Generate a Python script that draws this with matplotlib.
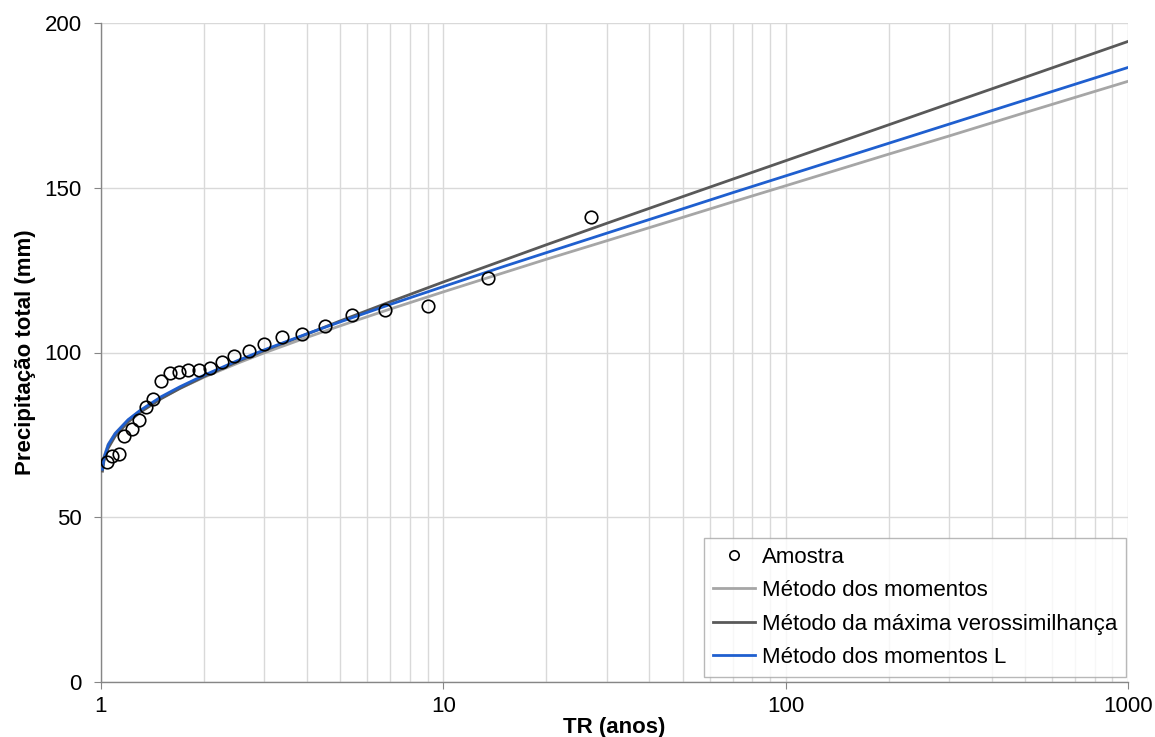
import matplotlib.pyplot as plt
from matplotlib.ticker import LogLocator, FixedLocator, NullFormatter

plt.rcParams['font.family'] = ['Liberation Sans', 'DejaVu Sans']

# Observed sample (return period, annual maximum)
tr_sample = [1.04, 1.08, 1.13, 1.17, 1.23, 1.29, 1.35, 1.42, 1.50, 1.59,
             1.69, 1.80, 1.93, 2.08, 2.25, 2.45, 2.70, 3.00, 3.38, 3.86,
             4.50, 5.40, 6.75, 9.00, 13.5, 27.0]
p_sample = [66.9, 68.6, 69.2, 74.7, 76.9, 79.5, 83.4, 85.9, 91.3, 93.7,
            94.1, 94.7, 94.7, 95.2, 97.2, 98.9, 100.5, 102.6, 104.6, 105.6,
            108.0, 111.3, 112.8, 114.1, 122.7, 141.2]

# Fitted curves
tr_fit = [1.01, 1.02, 1.05, 1.1, 1.2, 1.3, 1.5, 1.7, 2, 2.5, 3, 4, 5, 7,
          10, 15, 20, 30, 50, 70, 100, 200, 300, 500, 1000]
p_mom = [65.0, 68.4, 72.2, 75.5, 79.5, 82.3, 86.2, 89.1, 92.5, 96.7, 99.9,
         104.6, 108.1, 113.2, 118.4, 124.2, 128.3, 133.9, 141.0, 145.7,
         150.6, 160.2, 165.7, 172.8, 182.3]
p_mv = [64.0, 67.0, 71.0, 74.6, 78.9, 81.8, 86.0, 89.1, 92.7, 97.2, 100.6,
        105.6, 109.6, 115.4, 121.4, 128.0, 132.7, 139.2, 147.3, 152.6,
        158.2, 169.1, 175.5, 183.5, 194.4]
p_lmom = [64.6, 68.0, 72.0, 75.4, 79.6, 82.4, 86.6, 89.6, 93.1, 97.5, 100.8,
          105.7, 109.3, 114.6, 120.0, 126.1, 130.3, 136.2, 143.6, 148.5,
          153.6, 163.5, 169.3, 176.6, 186.5]

fig = plt.figure(figsize=(11.55, 7.37), dpi=100)
ax = fig.add_axes([101 / 1155, 1 - 682 / 737, 1027 / 1155, 659 / 737])

ax.plot(tr_fit, p_mom, color='#a6a6a6', lw=2.0, label='Método dos momentos', zorder=3)
ax.plot(tr_fit, p_mv, color='#595959', lw=2.0, label='Método da máxima verossimilhança', zorder=3)
ax.plot(tr_fit, p_lmom, color='#1f5fcf', lw=2.0, label='Método dos momentos L', zorder=4)
ax.plot(tr_sample, p_sample, 'o', ms=9, mfc='none', mec='black', mew=1.2,
        label='Amostra', zorder=5)

ax.set_xscale('log')
ax.set_xlim(1, 1000)
ax.set_ylim(0, 200)
ax.xaxis.set_major_locator(FixedLocator([1, 10, 100, 1000]))
ax.set_xticklabels(['1', '10', '100', '1000'])
ax.xaxis.set_minor_locator(LogLocator(base=10, subs=range(2, 10)))
ax.xaxis.set_minor_formatter(NullFormatter())
ax.set_yticks([0, 50, 100, 150, 200])

ax.grid(True, which='major', color='#d9d9d9', lw=1.0, zorder=0)
ax.grid(True, which='minor', axis='x', color='#d9d9d9', lw=1.0, zorder=0)
ax.set_axisbelow(True)

for side in ['top', 'right']:
    ax.spines[side].set_visible(False)
for side in ['left', 'bottom']:
    ax.spines[side].set_color('#868686')
    ax.spines[side].set_linewidth(1.0)
ax.tick_params(axis='both', which='major', direction='out', length=5,
               color='#868686', labelsize=16)
ax.tick_params(axis='y', pad=9)
ax.tick_params(axis='x', pad=5)
ax.tick_params(axis='x', which='minor', length=0)

ax.set_xlabel('TR (anos)', fontsize=16, fontweight='bold', labelpad=0)
ax.set_ylabel('Precipitação total (mm)', fontsize=16, fontweight='bold', labelpad=6)

handles, labels = ax.get_legend_handles_labels()
order = [3, 0, 1, 2]
leg = ax.legend([handles[i] for i in order], [labels[i] for i in order],
                loc='lower right', bbox_to_anchor=(0.998, 0.0076), fontsize=16,
                frameon=True, fancybox=False, edgecolor='#a6a6a6',
                handlelength=1.9, handletextpad=0.3, borderpad=0.4,
                labelspacing=0.56, borderaxespad=0.0, markerscale=0.75)
leg.get_frame().set_linewidth(1.0)

fig.savefig('out.png', dpi=100)
